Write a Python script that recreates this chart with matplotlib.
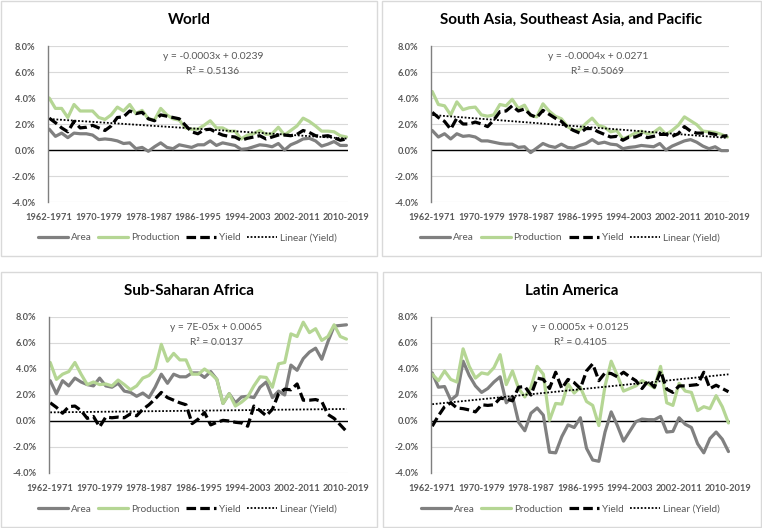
import numpy as np
import matplotlib
matplotlib.use("Agg")
import matplotlib.pyplot as plt
from matplotlib.patches import Rectangle
from matplotlib.ticker import FuncFormatter

plt.rcParams['font.family'] = ['Lato', 'DejaVu Sans']

# 10-year rolling windows 1962-1971 ... 2010-2019
periods = [f"{y}-{y + 9}" for y in range(1962, 2011)]
tick_idx = list(range(0, 49, 8))

# values in percent
world_area = [1.6, 1.05, 1.3, 0.95, 1.3, 1.25, 1.25, 1.15, 0.8, 0.85,
              0.8, 0.7, 0.5, 0.55, 0.1, 0.2, -0.1, 0.25, 0.55, 0.2,
              0.1, 0.4, 0.3, 0.2, 0.4, 0.4, 0.7, 0.35, 0.55, 0.45,
              0.35, 0.05, 0.1, 0.25, 0.4, 0.35, 0.25, 0.5, 0.0, 0.4,
              0.6, 0.85, 0.9, 0.7, 0.3, 0.45, 0.65, 0.35, 0.35]
world_prod = [4.0, 3.2, 3.2, 2.5, 3.5, 3.0, 3.0, 3.0, 2.5, 2.35,
              2.7, 3.3, 3.0, 3.5, 2.8, 3.05, 2.4, 2.3, 3.2, 2.7,
              2.4, 2.3, 1.7, 1.6, 1.6, 1.9, 2.25, 1.7, 1.7, 1.45,
              1.45, 0.85, 1.15, 1.25, 1.5, 1.2, 1.25, 1.75, 1.15, 1.5,
              1.85, 2.45, 2.2, 1.85, 1.45, 1.45, 1.4, 1.1, 1.0]
world_yield = [2.45, 2.1, 1.7, 1.4, 2.2, 1.7, 1.75, 1.9, 1.7, 1.5,
               1.85, 2.5, 2.55, 3.0, 2.8, 2.9, 2.4, 2.25, 2.7, 2.6,
               2.5, 2.4, 1.9, 1.4, 1.25, 1.55, 1.6, 1.35, 1.15, 1.05,
               1.0, 0.75, 0.9, 1.0, 1.1, 0.85, 1.0, 1.15, 1.15, 1.1,
               1.2, 1.5, 1.35, 1.1, 1.05, 1.1, 0.95, 0.75, 0.85]

sa_area = [1.5, 1.0, 1.25, 0.85, 1.25, 1.05, 1.1, 1.0, 0.7, 0.7,
           0.6, 0.5, 0.45, 0.45, 0.2, 0.25, -0.2, 0.15, 0.5, 0.3,
           0.2, 0.45, 0.2, 0.15, 0.35, 0.5, 0.8, 0.5, 0.6, 0.45,
           0.4, 0.1, 0.2, 0.25, 0.35, 0.3, 0.25, 0.5, 0.0, 0.3,
           0.5, 0.7, 0.8, 0.6, 0.3, 0.1, 0.25, -0.05, -0.05]
sa_prod = [4.5, 3.5, 3.4, 2.7, 3.7, 3.1, 3.25, 3.3, 2.7, 2.6,
           2.7, 3.5, 3.4, 3.9, 3.2, 3.45, 2.65, 2.55, 3.55, 3.0,
           2.6, 2.4, 1.8, 1.5, 1.55, 2.05, 2.45, 1.9, 1.75, 1.4,
           1.5, 0.85, 1.05, 1.3, 1.45, 1.25, 1.35, 1.7, 1.2, 1.5,
           1.9, 2.55, 2.25, 1.95, 1.45, 1.4, 1.35, 1.2, 1.0]
sa_yield = [2.9, 2.5, 2.2, 1.6, 2.45, 2.0, 2.0, 2.15, 2.0, 1.8,
            2.3, 2.95, 3.0, 3.4, 3.0, 3.15, 2.7, 2.5, 3.05, 2.75,
            2.45, 2.2, 1.75, 1.5, 1.3, 1.65, 1.65, 1.4, 1.2, 1.0,
            1.05, 0.75, 1.0, 1.0, 1.2, 0.95, 1.05, 1.2, 1.2, 1.05,
            1.25, 1.8, 1.45, 1.3, 1.3, 1.3, 1.2, 1.05, 1.1]

ssa_area = [3.1, 2.1, 3.1, 2.7, 3.3, 3.0, 2.8, 2.7, 3.3, 2.7,
            2.6, 2.9, 2.3, 2.2, 1.9, 2.15, 1.8, 2.6, 3.6, 2.9,
            3.6, 3.4, 3.4, 3.7, 3.7, 3.35, 3.8, 3.2, 1.35, 2.1,
            1.4, 1.85, 1.9, 1.8, 2.6, 3.0, 1.8, 2.3, 2.0, 4.3,
            3.9, 4.8, 5.3, 5.6, 4.75, 6.1, 7.3, 7.35, 7.4]
ssa_prod = [4.5, 3.2, 3.6, 3.8, 4.5, 3.6, 2.8, 3.0, 2.8, 2.85,
            2.7, 3.15, 2.8, 2.4, 2.7, 3.3, 3.5, 4.0, 5.9, 4.6,
            5.2, 4.7, 4.7, 3.6, 3.6, 4.0, 3.65, 3.2, 1.35, 2.1,
            1.15, 1.45, 1.85, 2.7, 3.4, 3.35, 2.6, 4.4, 4.5, 6.7,
            6.5, 7.6, 6.8, 7.1, 6.2, 6.5, 7.4, 6.5, 6.3]
ssa_yield = [1.4, 1.05, 0.6, 1.1, 1.15, 0.8, 0.2, 0.35, -0.45, 0.3,
             0.25, 0.3, 0.25, 0.55, 0.4, 0.9, 1.25, 1.7, 2.2, 1.8,
             1.6, 1.4, 1.25, -0.2, 0.15, 0.65, -0.3, -0.1, 0.05, 0.0,
             -0.1, -0.15, -0.4, 1.15, 0.8, 0.4, 0.9, 2.1, 2.45, 2.4,
             2.85, 1.6, 1.6, 1.65, 1.5, 0.5, 0.2, -0.3, -0.8]

la_area = [3.7, 2.6, 2.65, 1.6, 2.0, 4.6, 3.5, 2.7, 2.2, 2.5,
           3.0, 3.4, 1.4, 1.9, -0.1, -0.75, 0.6, 1.0, 0.45, -2.4,
           -2.45, -1.2, -0.3, -0.5, 0.25, -2.1, -3.0, -3.1, -0.85, 0.7,
           -0.35, -1.55, -0.8, -0.05, 0.15, 0.1, 0.1, 0.35, -0.85, -0.8,
           0.25, -0.25, -0.5, -1.75, -2.45, -1.35, -0.85, -1.4, -2.35]
la_prod = [3.6, 3.1, 3.85, 3.2, 3.0, 5.55, 4.2, 3.3, 3.7, 3.6,
           4.1, 5.1, 2.8, 3.85, 2.5, 1.85, 2.6, 4.2, 3.6, 0.05,
           1.35, 1.3, 2.85, 2.15, 2.6, 1.5, 1.2, -0.35, 2.7, 4.6,
           3.5, 2.3, 2.5, 2.7, 3.1, 2.85, 2.55, 4.2, 1.4, 1.2,
           2.9, 2.3, 2.2, 0.8, 1.1, 0.95, 1.95, 1.1, -0.15]
la_yield = [-0.4, 0.4, 1.1, 1.4, 1.0, 0.95, 0.85, 0.7, 1.25, 1.2,
            1.25, 1.75, 1.7, 1.55, 2.6, 2.65, 2.0, 3.3, 3.2, 2.5,
            3.75, 2.5, 3.2, 2.95, 2.5, 3.85, 4.4, 3.1, 3.7, 3.65,
            3.4, 3.75, 3.4, 3.1, 2.5, 3.1, 2.6, 3.85, 2.45, 2.2,
            2.7, 2.7, 2.75, 2.8, 3.75, 2.5, 2.75, 2.5, 2.25]

titles = ["World", "South Asia, Southeast Asia, and Pacific",
          "Sub-Saharan Africa", "Latin America"]
equations = ["y = -0.0003x + 0.0239", "y = -0.0004x + 0.0271",
             "y = 7E-05x + 0.0065", "y = 0.0005x + 0.0125"]
r2_values = ["0.5136", "0.5069", "0.0137", "0.4105"]

panels = [
    (world_area, world_prod, world_yield),
    (sa_area, sa_prod, sa_yield),
    (ssa_area, ssa_prod, ssa_yield),
    (la_area, la_prod, la_yield),
]

W, H = 762, 528
GRAY_TXT = '#595959'
C_AREA = '#808080'
C_PROD = '#B5D694'

# pixel layout: (box x0, box y0, box x1, box y1, axes left, axes right, axes top, axes bottom, eq x frac)
layout = [
    (1, 1, 377, 256, 48, 348, 46, 202, 0.55),
    (382, 1, 761, 256, 431, 729, 46, 202, 0.56),
    (1, 272, 377, 527, 49, 348, 317, 473, 0.56),
    (383, 272, 761, 527, 431, 730, 317, 473, 0.50),
]

fig = plt.figure(figsize=(W / 100, H / 100), dpi=100)

for k, (area, prod, yld) in enumerate(panels):
    bx0, by0, bx1, by1, al, ar, at, ab, eqx = layout[k]
    fig.patches.append(Rectangle((bx0 / W, 1 - by1 / H), (bx1 - bx0) / W, (by1 - by0) / H,
                                 transform=fig.transFigure, fill=False,
                                 edgecolor='#d9d9d9', lw=1.0))
    ax = fig.add_axes([al / W, 1 - ab / H, (ar - al) / W, (ab - at) / H])
    x = np.arange(len(area))
    a = np.array(area) / 100
    p = np.array(prod) / 100
    y = np.array(yld) / 100

    l1, = ax.plot(x, a, color=C_AREA, lw=2.3, label='Area', solid_capstyle='round')
    l2, = ax.plot(x, p, color=C_PROD, lw=2.3, label='Production', solid_capstyle='round')
    l3, = ax.plot(x, y, color='black', lw=2.3, ls=(0, (3, 1.3)), label='Yield')
    coef = np.polyfit(x + 1, y, 1)
    l4, = ax.plot(x, np.polyval(coef, x + 1), color='black', lw=1.3, ls=(0, (1, 1)),
                  label='Linear (Yield)')

    ax.axhline(0, color='black', lw=1.0, zorder=1)
    ax.set_ylim(-0.04, 0.08)
    ax.set_yticks(np.arange(-0.04, 0.081, 0.02))
    ax.yaxis.set_major_formatter(FuncFormatter(lambda v, _: f"{v * 100:.1f}%"))
    ax.set_xlim(-0.2, 48.25)
    ax.set_xticks(tick_idx)
    ax.set_xticklabels([periods[i] for i in tick_idx])
    ax.grid(axis='y', color='#d9d9d9', lw=0.8, zorder=0)
    ax.set_axisbelow(True)
    for s in ['top', 'right', 'bottom']:
        ax.spines[s].set_visible(False)
    ax.spines['left'].set_color('#7f7f7f')
    ax.spines['left'].set_linewidth(1.0)
    ax.tick_params(axis='both', length=0, labelsize=6.7, labelcolor=GRAY_TXT)
    ax.tick_params(axis='x', pad=8)
    ax.tick_params(axis='y', pad=9)
    for lab in ax.get_xticklabels() + ax.get_yticklabels():
        lab.set_fontweight('bold')

    ax.text(eqx, 0.93, equations[k], transform=ax.transAxes, ha='center', va='center',
            fontsize=7.4, color=GRAY_TXT)
    ax.text(eqx, 0.835, "R² = " + r2_values[k], transform=ax.transAxes, ha='center',
            va='center', fontsize=7.4, color=GRAY_TXT)

    cx = (bx0 + bx1) / 2 / W
    fig.text(cx, 1 - (by0 + 19) / H, titles[k], ha='center', va='center',
             fontsize=11, fontweight='bold', color='black')
    fig.legend(handles=[l1, l2, l3, l4], loc='center', ncol=4,
               bbox_to_anchor=(cx - 0.002, 1 - (by0 + 237) / H), frameon=False,
               fontsize=7.2, labelcolor=GRAY_TXT, handlelength=3.0,
               handletextpad=0.3, columnspacing=0.65)

fig.savefig('out.png', dpi=100)
